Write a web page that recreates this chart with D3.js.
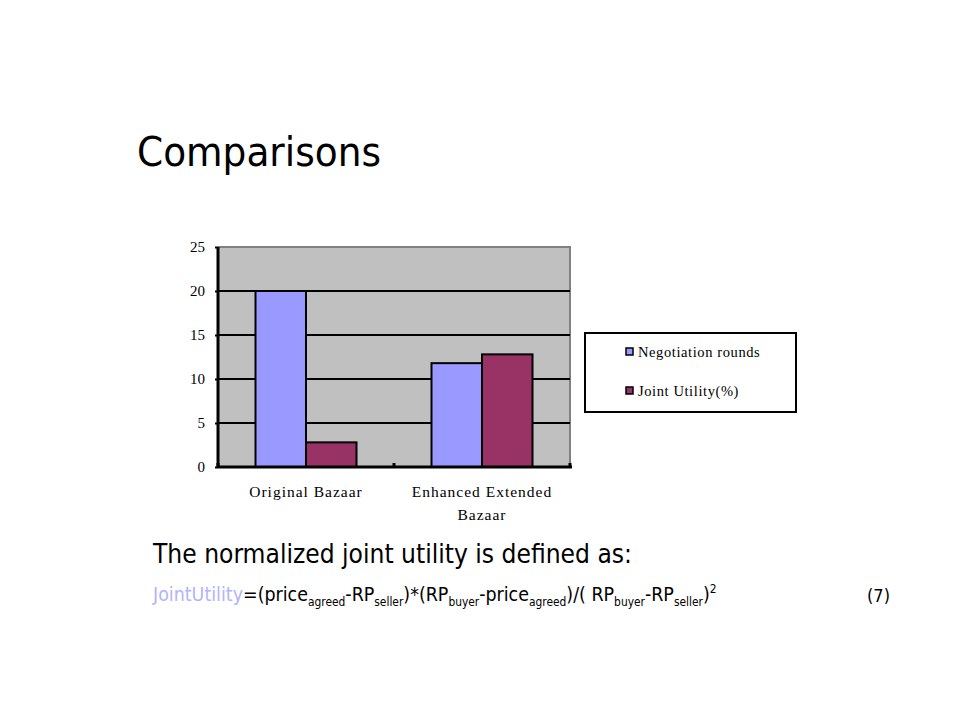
<!DOCTYPE html>
<html><head><meta charset="utf-8">
<script src="https://cdn.jsdelivr.net/npm/d3@7/dist/d3.min.js"></script>
<style>body{margin:0;background:#fff;} svg{display:block;}</style>
</head><body>
<script>
const categories = [["Original Bazaar"], ["Enhanced Extended", "Bazaar"]];
const categoryKeys = ["Original Bazaar", "Enhanced Extended Bazaar"];
const seriesNames = ["Negotiation rounds", "Joint Utility(%)"];
const negotiationRounds = [20, 11.8];
const jointUtility = [2.8, 12.8];
const yTicks = [0, 5, 10, 15, 20, 25];
const colors = ["#9999ff", "#993366"];

(function () {
const W = 960, H = 720;
const svg = d3.select("body").append("svg").attr("width", W).attr("height", H);

const sans = "Tahoma, 'DejaVu Sans Condensed', 'DejaVu Sans', sans-serif";
const serif = "'Liberation Serif', 'DejaVu Serif', serif";

// scale all font sizes within a text element so its width matches target
function fit(textSel, target) {
  const w = textSel.node().getComputedTextLength();
  const k = target / w;
  const base = +textSel.attr("font-size");
  textSel.attr("font-size", base * k);
  textSel.selectAll("tspan").each(function () {
    const t = d3.select(this);
    if (t.attr("font-size")) t.attr("font-size", +t.attr("font-size") * k);
    if (t.attr("dy")) t.attr("dy", +t.attr("dy") * k);
  });
}

const title = svg.append("text").attr("x", 137).attr("y", 166)
  .attr("font-family", sans).attr("font-size", 41).attr("fill", "#000")
  .text("Comparisons");
fit(title, 244);

const pl = 218, pr = 570, pt = 247, pb = 467;
const x0 = d3.scaleBand().domain(categoryKeys).range([pl, pr]).padding(0);
const x1 = d3.scaleBand().domain(seriesNames).range([37.5, 138.5]).padding(0);
const y = d3.scaleLinear().domain([0, 25]).range([pb, pt]);

svg.append("rect").attr("x", pl).attr("y", pt).attr("width", pr - pl).attr("height", pb - pt)
  .attr("fill", "#c0c0c0");
svg.append("path").attr("d", `M${pl},${pt}H${pr}V${pb}`).attr("fill", "none")
  .attr("stroke", "#808080").attr("stroke-width", 2);

svg.append("g").selectAll("line").data(yTicks.filter(t => t > 0 && t < 25)).join("line")
  .attr("x1", pl).attr("x2", pr).attr("y1", d => y(d)).attr("y2", d => y(d))
  .attr("stroke", "#000").attr("stroke-width", 2);

const data = categoryKeys.map((c, i) => ({ c, vals: [negotiationRounds[i], jointUtility[i]] }));
const g = svg.append("g");
data.forEach(d => {
  d.vals.forEach((v, j) => {
    g.append("rect")
      .attr("x", x0(d.c) + x1(seriesNames[j]))
      .attr("y", y(v))
      .attr("width", x1.bandwidth())
      .attr("height", y(0) - y(v))
      .attr("fill", colors[j]).attr("stroke", "#000").attr("stroke-width", 2);
  });
});

const yAxis = d3.axisLeft(y).tickValues(yTicks).tickSize(3).tickPadding(10);
const ya = svg.append("g").attr("transform", `translate(${pl},0)`).call(yAxis);
ya.select(".domain").attr("stroke-width", 3).attr("d", `M0,${pt}V${pb}`);
ya.selectAll(".tick line").attr("stroke-width", 2);
ya.selectAll("text").attr("font-family", serif).attr("font-size", 15).attr("fill", "#000");

const xa = svg.append("g").attr("transform", `translate(0,${pb})`);
xa.append("line").attr("x1", pl).attr("x2", pr + 2).attr("y1", 0).attr("y2", 0).attr("stroke", "#000").attr("stroke-width", 3);
const bounds = [pl, pl + x0.bandwidth(), pr];
xa.selectAll(".tk").data(bounds).join("line").attr("class", "tk")
  .attr("x1", d => d).attr("x2", d => d).attr("y1", 0).attr("y2", -4).attr("stroke", "#000").attr("stroke-width", 3);
categoryKeys.forEach((c, i) => {
  const t = xa.append("text").attr("text-anchor", "middle")
    .attr("font-family", serif).attr("font-size", 15.5).attr("letter-spacing", 1).attr("fill", "#000");
  categories[i].forEach((line, k) => {
    t.append("tspan").attr("x", x0(c) + x0.bandwidth() / 2).attr("y", 30 + k * 23).text(line);
  });
});

const lg = svg.append("g").attr("transform", "translate(585,333)");
lg.append("rect").attr("width", 211).attr("height", 79).attr("fill", "#fff").attr("stroke", "#000").attr("stroke-width", 2);
seriesNames.forEach((s, i) => {
  const yy = 19 + i * 39;
  lg.append("rect").attr("x", 41).attr("y", yy - 4).attr("width", 7).attr("height", 7)
    .attr("fill", colors[i]).attr("stroke", "#000").attr("stroke-width", 1.5);
  lg.append("text").attr("x", 53).attr("y", yy + 5)
    .attr("font-family", serif).attr("font-size", 14.5)
    .attr("letter-spacing", 0.6).attr("fill", "#000").text(s);
});

const cap = svg.append("text").attr("x", 153).attr("y", 563)
  .attr("font-family", sans).attr("font-size", 22).attr("fill", "#000")
  .text("The normalized joint utility is defined as:");
fit(cap, 479);

const f = svg.append("text").attr("x", 153).attr("y", 601)
  .attr("font-family", sans).attr("font-size", 18).attr("fill", "#000");
const parts = [
  ["JointUtility", "n", "#b3b3ff"], ["=(price", "n"], ["agreed", "s"], ["-RP", "n"], ["seller", "s"],
  [")*(RP", "n"], ["buyer", "s"], ["-price", "n"], ["agreed", "s"], [")/( RP", "n"], ["buyer", "s"],
  ["-RP", "n"], ["seller", "s"], [")", "n"], ["2", "p"]
];
let state = 0;
parts.forEach(([t, k, c]) => {
  const ts = f.append("tspan").text(t);
  if (c) ts.attr("fill", c);
  const target = k === "s" ? 5 : k === "p" ? -7 : 0;
  if (target !== state) { ts.attr("dy", target - state); state = target; }
  if (k !== "n") ts.attr("font-size", 11);
});
fit(f, 564);
const seven = svg.append("text").attr("x", 867).attr("y", 602)
  .attr("font-family", sans).attr("font-size", 19).attr("fill", "#000").text("(7)");
fit(seven, 23);
})();
</script>
</body></html>
